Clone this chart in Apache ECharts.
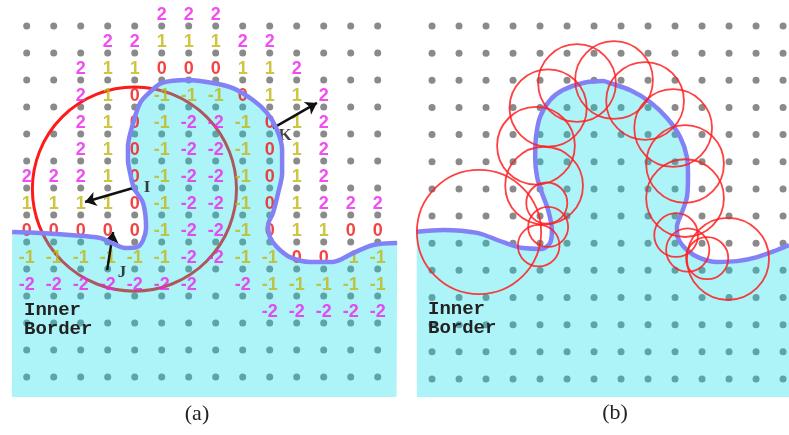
<!DOCTYPE html>
<html>
<head>
<meta charset="utf-8">
<title>Distance band and rolling circles</title>
<script src="https://cdn.jsdelivr.net/npm/echarts@6/dist/echarts.min.js"></script>
<style>
  html, body { margin: 0; padding: 0; background: #fff; }
  #chart { width: 789px; height: 435px; }
</style>
</head>
<body>
<div id="chart"></div>
<script>
// sample lattice, in grid units (one unit = one sample spacing)
var latticeCols = [0, 1, 2, 3, 4, 5, 6, 7, 8, 9, 10, 11, 12, 13];
var latticeRows = [0, 1, 2, 3, 4, 5, 6, 7, 8, 9, 10, 11, 12, 13];

// panel (a): signed distance labels, one array per lattice row (null = none)
var _ = null;
var distRows = [
  [ _,  _,  _,  _,  _,  2,  2,  2,  _,  _,  _,  _,  _,  _],
  [ _,  _,  _,  2,  2,  1,  1,  1,  2,  2,  _,  _,  _,  _],
  [ _,  _,  2,  1,  1,  0,  0,  0,  1,  1,  2,  _,  _,  _],
  [ _,  _,  2,  1,  0, -1, -1, -1,  0,  1,  1,  2,  _,  _],
  [ _,  _,  2,  1,  0, -1, -2, -2, -1,  0,  1,  2,  _,  _],
  [ _,  _,  2,  1,  0, -1, -2, -2, -1,  0,  1,  2,  _,  _],
  [ 2,  2,  2,  1,  0, -1, -2, -2, -1,  0,  1,  2,  _,  _],
  [ 1,  1,  1,  1,  0, -1, -2, -2, -1,  0,  1,  2,  2,  2],
  [ 0,  0,  0,  0,  0, -1, -2, -2, -1,  0,  1,  1,  0,  0],
  [-1, -1, -1, -1, -1, -1, -2, -2, -1, -1,  0,  0, -1, -1],
  [-2, -2, -2, -2, -2, -2, -2,  _, -2, -1, -1, -1, -1, -1],
  [ _,  _,  _,  _,  _,  _,  _,  _,  _, -2, -2, -2, -2, -2]
];

// panel (a): interface curve [col, row]
var borderA = [
  [-0.54, 7.63], [0.49, 7.67], [1.60, 7.74], [2.72, 7.85], [3.16, 8.04],
  [3.64, 8.22], [4.09, 8.19], [4.31, 7.93], [4.42, 7.48], [4.31, 6.56],
  [3.97, 6.00], [3.83, 5.44], [3.75, 4.96], [3.75, 4.48], [3.90, 3.74],
  [4.20, 2.85], [4.57, 2.44], [5.01, 2.11], [5.94, 2.00], [6.90, 2.11],
  [7.64, 2.30], [8.38, 2.74], [8.90, 3.22], [9.27, 3.85], [9.46, 4.59],
  [9.46, 5.44], [9.31, 6.19], [9.12, 6.93], [8.94, 7.37], [9.01, 7.82],
  [9.27, 8.19], [9.75, 8.56], [10.49, 8.74], [11.34, 8.74], [12.09, 8.41],
  [12.83, 8.11], [13.72, 8.04]
];

// panel (b): interface curve [col, row]
var borderB = [
  [-0.57, 7.58], [0.41, 7.51], [1.67, 7.62], [2.63, 7.96], [3.37, 8.18],
  [4.07, 8.21], [4.37, 7.99], [4.44, 7.51], [4.30, 6.78], [4.07, 6.15],
  [3.89, 5.56], [3.82, 4.83], [3.85, 4.09], [4.00, 3.35], [4.37, 2.73],
  [4.85, 2.36], [5.59, 2.10], [6.33, 2.03], [6.59, 2.10], [7.33, 2.36],
  [8.07, 2.80], [8.70, 3.39], [9.19, 4.09], [9.44, 4.83], [9.48, 5.56],
  [9.44, 6.30], [9.26, 6.85], [9.07, 7.40], [9.11, 7.81], [9.44, 8.25],
  [9.93, 8.55], [10.56, 8.69], [11.30, 8.66], [12.04, 8.51], [12.78, 8.25],
  [13.22, 8.07]
];

// circles [col, row, radius]
var circleA = [[3.99, 6.04, 3.78]];
var circlesB = [
  [1.74, 7.59, 2.30], [3.95, 8.09, 0.77], [4.30, 7.40, 0.74], [4.25, 6.52, 0.76],
  [4.15, 5.88, 1.44], [3.85, 4.41, 1.44], [4.30, 3.02, 1.43], [5.37, 2.10, 1.44],
  [6.74, 1.99, 1.44], [7.89, 2.76, 1.44], [8.93, 3.76, 1.44], [9.37, 5.08, 1.44],
  [9.37, 6.34, 1.44], [9.04, 7.70, 0.81], [9.47, 8.25, 0.80], [10.19, 8.55, 0.78],
  [10.96, 8.58, 1.52]
];

// arrows in panel (a): [from, to]
var arrowsA = [
  [[3.94, 6.00], [2.16, 6.52]],
  [[2.98, 9.04], [3.20, 7.63]],
  [[9.12, 3.78], [10.75, 2.85]]
];
var arrowNames = [['I', 4.46, 6.00], ['J', 3.53, 9.15], ['K', 9.57, 4.07]];

// panel extents (grid units)
var extA = {xMin: -0.55, xMax: 13.70, yMin: -0.963, yMax: 13.74};
var extB = {xMin: -0.56, xMax: 13.22, yMin: -0.958, yMax: 13.665};

var chart = echarts.init(document.getElementById('chart'));

var dots = [];
latticeRows.forEach(function (r) {
  latticeCols.forEach(function (c) { dots.push([c, r]); });
});

var labelColors = {'2': '#ee22ee', '-2': '#ee22ee', '1': '#c2b614', '-1': '#c2b614', '0': '#f01414'};
var distData = [];
distRows.forEach(function (row, r) {
  row.forEach(function (v, c) {
    if (v === null) return;
    distData.push({value: [c, r, v], label: {color: labelColors[String(v)]}});
  });
});

function regionRender(border, ext) {
  return function (params, api) {
    var pts = border.concat([[ext.xMax, ext.yMax], [ext.xMin, ext.yMax]]);
    return {
      type: 'polygon',
      shape: {points: pts.map(function (p) { return api.coord(p); })},
      style: {fill: 'rgba(0,220,235,0.32)'}
    };
  };
}

function ringRender(color, width) {
  return function (params, api) {
    var c = api.coord([api.value(0), api.value(1)]);
    var r = api.size([api.value(2), 0])[0];
    return {
      type: 'circle',
      shape: {cx: c[0], cy: c[1], r: r},
      style: {fill: 'none', stroke: color, lineWidth: width}
    };
  };
}

function axisPair(ext, idx) {
  return {
    x: {type: 'value', gridIndex: idx, min: ext.xMin, max: ext.xMax, show: false},
    y: {type: 'value', gridIndex: idx, min: ext.yMin, max: ext.yMax, inverse: true, show: false}
  };
}
var axA = axisPair(extA, 0), axB = axisPair(extB, 1);

var option = {
  animation: false,
  title: [
    {text: '(a)', left: 197, top: 403, textAlign: 'center', padding: 0,
      textStyle: {fontFamily: 'Liberation Serif', fontSize: 22, fontWeight: 'normal', color: '#222'}},
    {text: '(b)', left: 615, top: 402, textAlign: 'center', padding: 0,
      textStyle: {fontFamily: 'Liberation Serif', fontSize: 22, fontWeight: 'normal', color: '#222'}},
    {text: 'Inner\nBorder', left: 24, top: 301, padding: 0,
      textStyle: {fontFamily: 'Liberation Mono', fontSize: 19, fontWeight: 'bold', lineHeight: 19, color: '#222'}},
    {text: 'Inner\nBorder', left: 428, top: 300, padding: 0,
      textStyle: {fontFamily: 'Liberation Mono', fontSize: 19, fontWeight: 'bold', lineHeight: 19, color: '#222'}}
  ],
  grid: [
    {left: 11.85, top: 0, width: 384.75, height: 397},
    {left: 416.9, top: 0, width: 372.1, height: 397}
  ],
  xAxis: [axA.x, axB.x],
  yAxis: [axA.y, axB.y],
  series: [
    // ---- panel (a)
    {type: 'scatter', xAxisIndex: 0, yAxisIndex: 0, z: 1, silent: true,
      symbolSize: 7, itemStyle: {color: '#8a8a8a', opacity: 1}, data: dots},
    {type: 'custom', xAxisIndex: 0, yAxisIndex: 0, z: 2, silent: true,
      renderItem: ringRender('#ff1a1a', 3), data: circleA},
    {type: 'custom', xAxisIndex: 0, yAxisIndex: 0, z: 3, silent: true,
      renderItem: regionRender(borderA, extA), data: [0]},
    {type: 'scatter', xAxisIndex: 0, yAxisIndex: 0, z: 5, silent: true,
      symbolSize: 0, data: distData,
      label: {show: true, position: 'inside', offset: [0, -11],
        fontFamily: 'Liberation Sans', fontSize: 18, fontWeight: 'bold',
        formatter: function (p) { return String(p.value[2]); }}},
    {type: 'lines', coordinateSystem: 'cartesian2d', xAxisIndex: 0, yAxisIndex: 0, z: 6, silent: true,
      symbol: ['none', 'arrow'], symbolSize: 11,
      lineStyle: {color: '#111', width: 2.5, opacity: 1, curveness: 0},
      data: arrowsA.map(function (a) { return {coords: a}; })},
    {type: 'scatter', xAxisIndex: 0, yAxisIndex: 0, z: 6, silent: true,
      symbolSize: 0,
      data: arrowNames.map(function (n) { return {name: n[0], value: [n[1], n[2]]}; }),
      label: {show: true, position: 'inside', formatter: '{b}', color: '#111',
        fontFamily: 'Liberation Serif', fontSize: 17, fontWeight: 'bold'}},
    {type: 'line', xAxisIndex: 0, yAxisIndex: 0, z: 7, silent: true,
      smooth: 0.3, showSymbol: false,
      lineStyle: {color: '#8282f6', width: 4.5}, data: borderA},

    // ---- panel (b)
    {type: 'scatter', xAxisIndex: 1, yAxisIndex: 1, z: 1, silent: true,
      symbolSize: 7, itemStyle: {color: '#8a8a8a', opacity: 1}, data: dots},
    {type: 'custom', xAxisIndex: 1, yAxisIndex: 1, z: 3, silent: true,
      renderItem: regionRender(borderB, extB), data: [0]},
    {type: 'line', xAxisIndex: 1, yAxisIndex: 1, z: 7, silent: true,
      smooth: 0.3, showSymbol: false,
      lineStyle: {color: '#8282f6', width: 4.5}, data: borderB},
    {type: 'custom', xAxisIndex: 1, yAxisIndex: 1, z: 8, silent: true,
      renderItem: ringRender('rgba(255,30,30,0.85)', 1.8), data: circlesB}
  ]
};

chart.setOption(option);
</script>
</body>
</html>
